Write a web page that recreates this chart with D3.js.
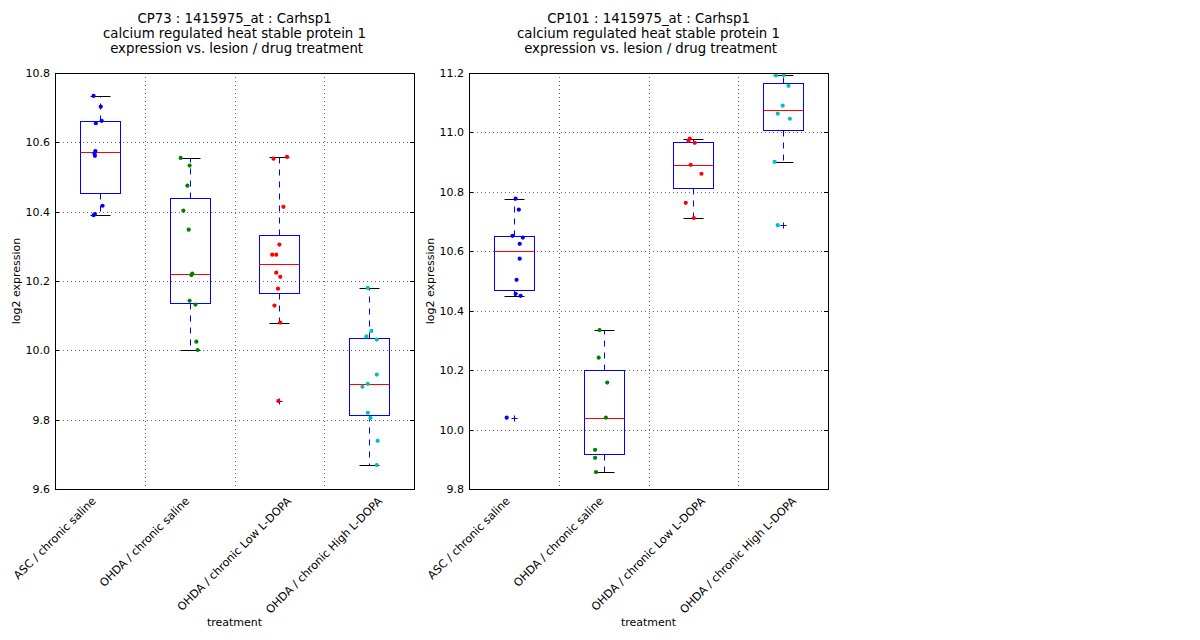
<!DOCTYPE html>
<html>
<head>
<meta charset="utf-8">
<script src="https://cdn.jsdelivr.net/npm/d3@7"></script>
<style>
  body { margin: 0; background: #fff; }
  svg text { font-family: "DejaVu Sans", sans-serif; fill: #000; }
</style>
</head>
<body>
<div id="chart"></div>
<script>
// categories on the x axis
const treatments = [
  "ASC / chronic saline",
  "OHDA / chronic saline",
  "OHDA / chronic Low L-DOPA",
  "OHDA / chronic High L-DOPA"
];
const pointColors = ["#0000ff", "#008000", "#ff0000", "#00bfbf"];

// CP73 expression values, one list per treatment
const cp73Values = [
  [10.734, 10.703, 10.662, 10.655, 10.575, 10.568, 10.561, 10.417, 10.393, 10.390],
  [10.555, 10.533, 10.475, 10.403, 10.348, 10.221, 10.217, 10.143, 10.132, 10.025, 10.001],
  [10.558, 10.553, 10.414, 10.305, 10.276, 10.276, 10.224, 10.212, 10.178, 10.129, 10.080, 9.854],
  [10.180, 10.056, 10.040, 10.031, 9.930, 9.903, 9.895, 9.820, 9.805, 9.739, 9.669]
];
// horizontal jitter of each point (in category units)
const cp73Jitter = [
  [-0.07, 0.01, 0.02, -0.045, -0.05, -0.06, -0.055, 0.03, -0.055, -0.07],
  [-0.10, 0.0, -0.025, -0.07, -0.01, 0.03, 0.02, 0.0, 0.065, 0.075, 0.09],
  [0.085, -0.065, 0.045, 0.0, -0.08, -0.035, -0.035, 0.01, -0.015, -0.055, 0.01, -0.01],
  [-0.015, 0.025, -0.03, 0.085, 0.085, -0.015, -0.075, -0.015, 0.015, 0.095, 0.085]
];

// CP101 expression values
const cp101Values = [
  [10.777, 10.740, 10.652, 10.646, 10.625, 10.575, 10.504, 10.457, 10.450, 10.040],
  [10.335, 10.242, 10.158, 10.040, 9.932, 9.905, 9.857],
  [10.979, 10.972, 10.965, 10.891, 10.861, 10.763, 10.712],
  [11.192, 11.193, 11.157, 11.090, 11.063, 11.046, 10.901, 10.688]
];
const cp101Jitter = [
  [0.02, 0.055, -0.015, 0.10, 0.065, 0.065, 0.03, 0.02, 0.075, -0.08],
  [-0.045, -0.055, 0.04, 0.025, -0.095, -0.095, -0.085],
  [-0.04, -0.055, 0.015, -0.03, 0.09, -0.085, 0.005],
  [-0.08, 0.005, 0.06, -0.005, -0.06, 0.075, -0.095, -0.06]
];

const cp73Ticks = [9.6, 9.8, 10.0, 10.2, 10.4, 10.6, 10.8];
const cp101Ticks = [9.8, 10.0, 10.2, 10.4, 10.6, 10.8, 11.0, 11.2];

const panels = [
  { left: 55, title: "CP73 : 1415975_at : Carhsp1", values: cp73Values, jitter: cp73Jitter, ticks: cp73Ticks },
  { left: 469, title: "CP101 : 1415975_at : Carhsp1", values: cp101Values, jitter: cp101Jitter, ticks: cp101Ticks }
];

const width = 1200, height = 640;
const plotW = 359, plotTop = 73, plotBottom = 489;

const svg = d3.select("#chart").append("svg")
  .attr("width", width)
  .attr("height", height);

// snap to pixel centres so 1px lines stay sharp
const snap = v => Math.round(v) + 0.5;

panels.forEach(p => {
  const g = svg.append("g").attr("transform", `translate(${p.left},0)`);

  const x = d3.scaleLinear().domain([0.5, 4.5]).range([0, plotW]);
  const y = d3.scaleLinear().domain(d3.extent(p.ticks)).range([plotBottom, plotTop]);

  // grid
  g.selectAll(".hgrid").data(p.ticks.slice(1, -1)).join("line")
    .attr("x1", 0).attr("x2", plotW)
    .attr("y1", d => snap(y(d))).attr("y2", d => snap(y(d)))
    .attr("stroke", "#666").attr("stroke-width", 1)
    .attr("stroke-dasharray", "1,3");
  g.selectAll(".vgrid").data([1.5, 2.5, 3.5]).join("line")
    .attr("x1", d => snap(x(d))).attr("x2", d => snap(x(d)))
    .attr("y1", plotTop).attr("y2", plotBottom)
    .attr("stroke", "#666").attr("stroke-width", 1)
    .attr("stroke-dasharray", "1,3");

  // y ticks (inward, both sides) and labels
  g.selectAll(".ytl").data(p.ticks).join("line")
    .attr("x1", 0).attr("x2", 4)
    .attr("y1", d => snap(y(d))).attr("y2", d => snap(y(d)))
    .attr("stroke", "#000");
  g.selectAll(".ytr").data(p.ticks).join("line")
    .attr("x1", plotW - 4).attr("x2", plotW)
    .attr("y1", d => snap(y(d))).attr("y2", d => snap(y(d)))
    .attr("stroke", "#000");
  g.selectAll(".ylab").data(p.ticks).join("text")
    .attr("x", -5).attr("y", d => y(d) + 4)
    .attr("text-anchor", "end")
    .style("font-size", "11px")
    .text(d => d3.format(".1f")(d));

  // boxes
  p.values.forEach((vals, i) => {
    const s = vals.slice().sort(d3.ascending);
    const q1 = d3.quantile(s, 0.25), med = d3.quantile(s, 0.5), q3 = d3.quantile(s, 0.75);
    const iqr = q3 - q1;
    const lo = d3.min(s.filter(v => v >= q1 - 1.5 * iqr));
    const hi = d3.max(s.filter(v => v <= q3 + 1.5 * iqr));
    const outliers = s.filter(v => v < lo || v > hi);
    const cx = snap(x(i + 1)), bw = 40;

    g.append("line").attr("x1", cx).attr("x2", cx).attr("y1", snap(y(q3))).attr("y2", snap(y(hi)))
      .attr("stroke", "#0000ff").attr("stroke-dasharray", "6,6");
    g.append("line").attr("x1", cx).attr("x2", cx).attr("y1", snap(y(q1))).attr("y2", snap(y(lo)))
      .attr("stroke", "#0000ff").attr("stroke-dasharray", "6,6");
    g.append("rect").attr("x", cx - bw / 2).attr("y", snap(y(q3)))
      .attr("width", bw).attr("height", snap(y(q1)) - snap(y(q3)))
      .attr("fill", "none").attr("stroke", "#0000ff");
    g.append("line").attr("x1", cx - bw / 2).attr("x2", cx + bw / 2)
      .attr("y1", snap(y(med))).attr("y2", snap(y(med))).attr("stroke", "#ff0000");
    [lo, hi].forEach(v => {
      g.append("line").attr("x1", cx - bw / 4).attr("x2", cx + bw / 4)
        .attr("y1", snap(y(v))).attr("y2", snap(y(v))).attr("stroke", "#000");
    });
    outliers.forEach(v => {
      const oy = snap(y(v));
      g.append("path")
        .attr("d", `M${cx - 3},${oy}H${cx + 3}M${cx},${oy - 3}V${oy + 3}`)
        .attr("stroke", "#0000ff").attr("stroke-width", 1);
    });

    // jittered points
    g.selectAll(".pt" + i).data(vals).join("circle")
      .attr("cx", (d, j) => x(i + 1 + p.jitter[i][j]))
      .attr("cy", d => y(d))
      .attr("r", 2.1)
      .attr("fill", pointColors[i]);
  });

  // frame
  g.append("rect").attr("x", 0.5).attr("y", plotTop + 0.5)
    .attr("width", plotW).attr("height", plotBottom - plotTop)
    .attr("fill", "none").attr("stroke", "#000");

  // x tick labels: centred on the grid positions, rotated 45 degrees
  g.selectAll(".xlab").data(treatments).join("text")
    .attr("text-anchor", "middle")
    .attr("dominant-baseline", "central")
    .style("font-size", "11.2px")
    .text(d => d)
    .attr("transform", function (d, i) {
      const len = this.getComputedTextLength();
      const yc = plotBottom + 6 + (len + 12) * Math.SQRT1_2 / 2;
      return `translate(${x(i + 0.5)},${yc}) rotate(-45)`;
    });

  // title
  const t = g.append("text").attr("x", plotW / 2).attr("text-anchor", "middle").style("font-size", "13.3px");
  [p.title, "calcium regulated heat stable protein 1", " expression vs. lesion / drug treatment"].forEach((line, k) => {
    t.append("tspan").attr("x", plotW / 2).attr("y", 23 + k * 15).text(line);
  });

  // axis labels
  g.append("text")
    .attr("transform", `translate(-35,${(plotTop + plotBottom) / 2}) rotate(-90)`)
    .attr("text-anchor", "middle")
    .style("font-size", "11px")
    .text("log2 expression");
  g.append("text")
    .attr("x", plotW / 2).attr("y", 626)
    .attr("text-anchor", "middle")
    .style("font-size", "11px")
    .text("treatment");
});
</script>
</body>
</html>
